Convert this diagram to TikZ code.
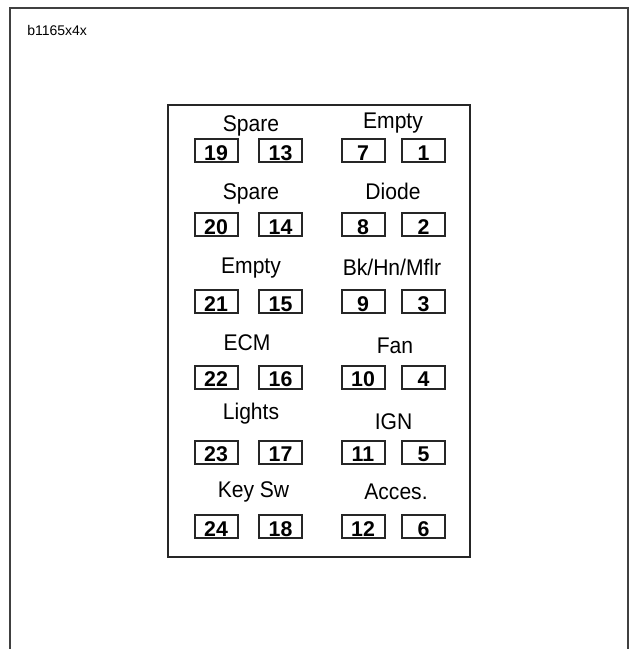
\documentclass[tikz,border=0pt]{standalone}
\usepackage{fontspec}
\setmainfont{Liberation Sans}
\newfontfamily\labfont[FakeStretch=0.93]{Liberation Sans}
\begin{document}
\begin{tikzpicture}[x=0.75pt,y=-0.75pt,
  lab/.style={anchor=base,inner sep=0pt,font=\labfont\fontsize{17}{19}\selectfont},
  numbox/.style={draw=black!85,line width=1.5pt,minimum width=32.25pt,minimum height=17.25pt,
    inner sep=0pt,text height=14.4pt,text depth=0pt,font=\bfseries\fontsize{16}{18}\selectfont},
  frameline/.style={draw=black!75,line width=1.1pt},
  panel/.style={draw=black!85,line width=1.5pt}]
\useasboundingbox (0,0) rectangle (632,649);
% outer frame
\coordinate (fbl) at (10,649);
\coordinate (ftl) at (10,8);
\coordinate (ftr) at (628,8);
\coordinate (fbr) at (628,649);
\draw[frameline] (fbl) -- (ftl) -- (ftr) -- (fbr);
\node[anchor=base west,inner sep=0pt,font=\fontsize{10.5}{12}\selectfont] (code) at (27,35.7) {b1165x4x};
% panel
\node[panel,minimum width=226.5pt,minimum height=339pt,inner sep=0pt] (panel) at (319,331) {};
% labels
\node[lab] (l1) at (251,131.7) {Spare};
\node[lab] (r1) at (393,129) {Empty};
\node[lab] (l2) at (251,199) {Spare};
\node[lab] (r2) at (393,199) {Diode};
\node[lab] (l3) at (251,273) {Empty};
\node[lab] (r3) at (392,275) {Bk/Hn/Mflr};
\node[lab] (l4) at (247,350.7) {ECM};
\node[lab] (r4) at (395,353) {Fan};
\node[lab] (l5) at (251,419) {Lights};
\node[lab] (r5) at (393.5,429) {IGN};
\node[lab] (l6) at (253.5,497) {Key Sw};
\node[lab] (r6) at (396,499) {Acces.};
% number boxes
\foreach \y/\a/\b/\c/\d in {150.5/19/13/7/1, 224.5/20/14/8/2, 301.5/21/15/9/3,
                            377/22/16/10/4, 452/23/17/11/5, 526.5/24/18/12/6} {
  \node[numbox] (n\a) at (216,\y) {\a};
  \node[numbox] (n\b) at (280.5,\y) {\b};
  \node[numbox] (n\c) at (363,\y) {\c};
  \node[numbox] (n\d) at (423.5,\y) {\d};
}
\end{tikzpicture}
\end{document}
